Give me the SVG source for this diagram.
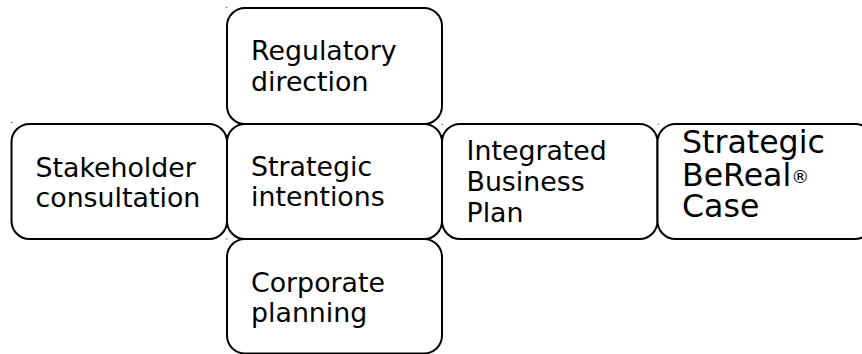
<svg xmlns="http://www.w3.org/2000/svg" width="862" height="354" viewBox="0 0 862 354">
<style>
.box{fill:#fff;stroke:#000;stroke-width:2}
.t{font-family:"DejaVu Sans",sans-serif;font-size:26.8px;fill:#000}
.big{font-size:31.6px}
.dot{fill:#000}
</style>
<rect width="862" height="354" fill="#fff"/>
<g id="connectors"></g>
<g id="regulatory">
<rect class="box" x="227" y="8" width="215" height="116" rx="18"/>
<text class="t" x="251" y="60">Regulatory</text>
<text class="t" x="251" y="90.5">direction</text>
</g>
<g id="stakeholder">
<rect class="box" x="11.5" y="124" width="215.5" height="115" rx="18"/>
<text class="t" x="35.5" y="177">Stakeholder</text>
<text class="t" x="35.5" y="207">consultation</text>
</g>
<g id="strategic-intentions">
<rect class="box" x="227" y="124" width="215" height="115" rx="18"/>
<text class="t" x="251" y="176">Strategic</text>
<text class="t" x="251" y="206">intentions</text>
</g>
<g id="integrated">
<rect class="box" x="442" y="124" width="215.5" height="115" rx="18"/>
<text class="t" x="466.5" y="160">Integrated</text>
<text class="t" x="466.5" y="191">Business</text>
<text class="t" x="466.5" y="221.5">Plan</text>
</g>
<g id="bereal">
<rect class="box" x="657.5" y="124" width="215.5" height="115" rx="18"/>
<text class="t big" x="682" y="152.5">Strategic</text>
<text class="t big" x="682" y="185.5">BeReal<tspan font-size="18px" dy="-3">®</tspan></text>
<text class="t big" x="682" y="217">Case</text>
</g>
<g id="corporate">
<rect class="box" x="227" y="239" width="215" height="114.5" rx="18"/>
<text class="t" x="251" y="291.5">Corporate</text>
<text class="t" x="251" y="321.5">planning</text>
</g>
<g id="marks">
<circle class="dot" cx="226.7" cy="7.3" r="0.6"/>
<circle class="dot" cx="11.7" cy="122.5" r="0.6"/>
<circle class="dot" cx="442.3" cy="124.3" r="0.6"/>
<circle class="dot" cx="658.3" cy="124" r="0.6"/>
<circle class="dot" cx="226.7" cy="239" r="0.6"/>
</g>
</svg>
